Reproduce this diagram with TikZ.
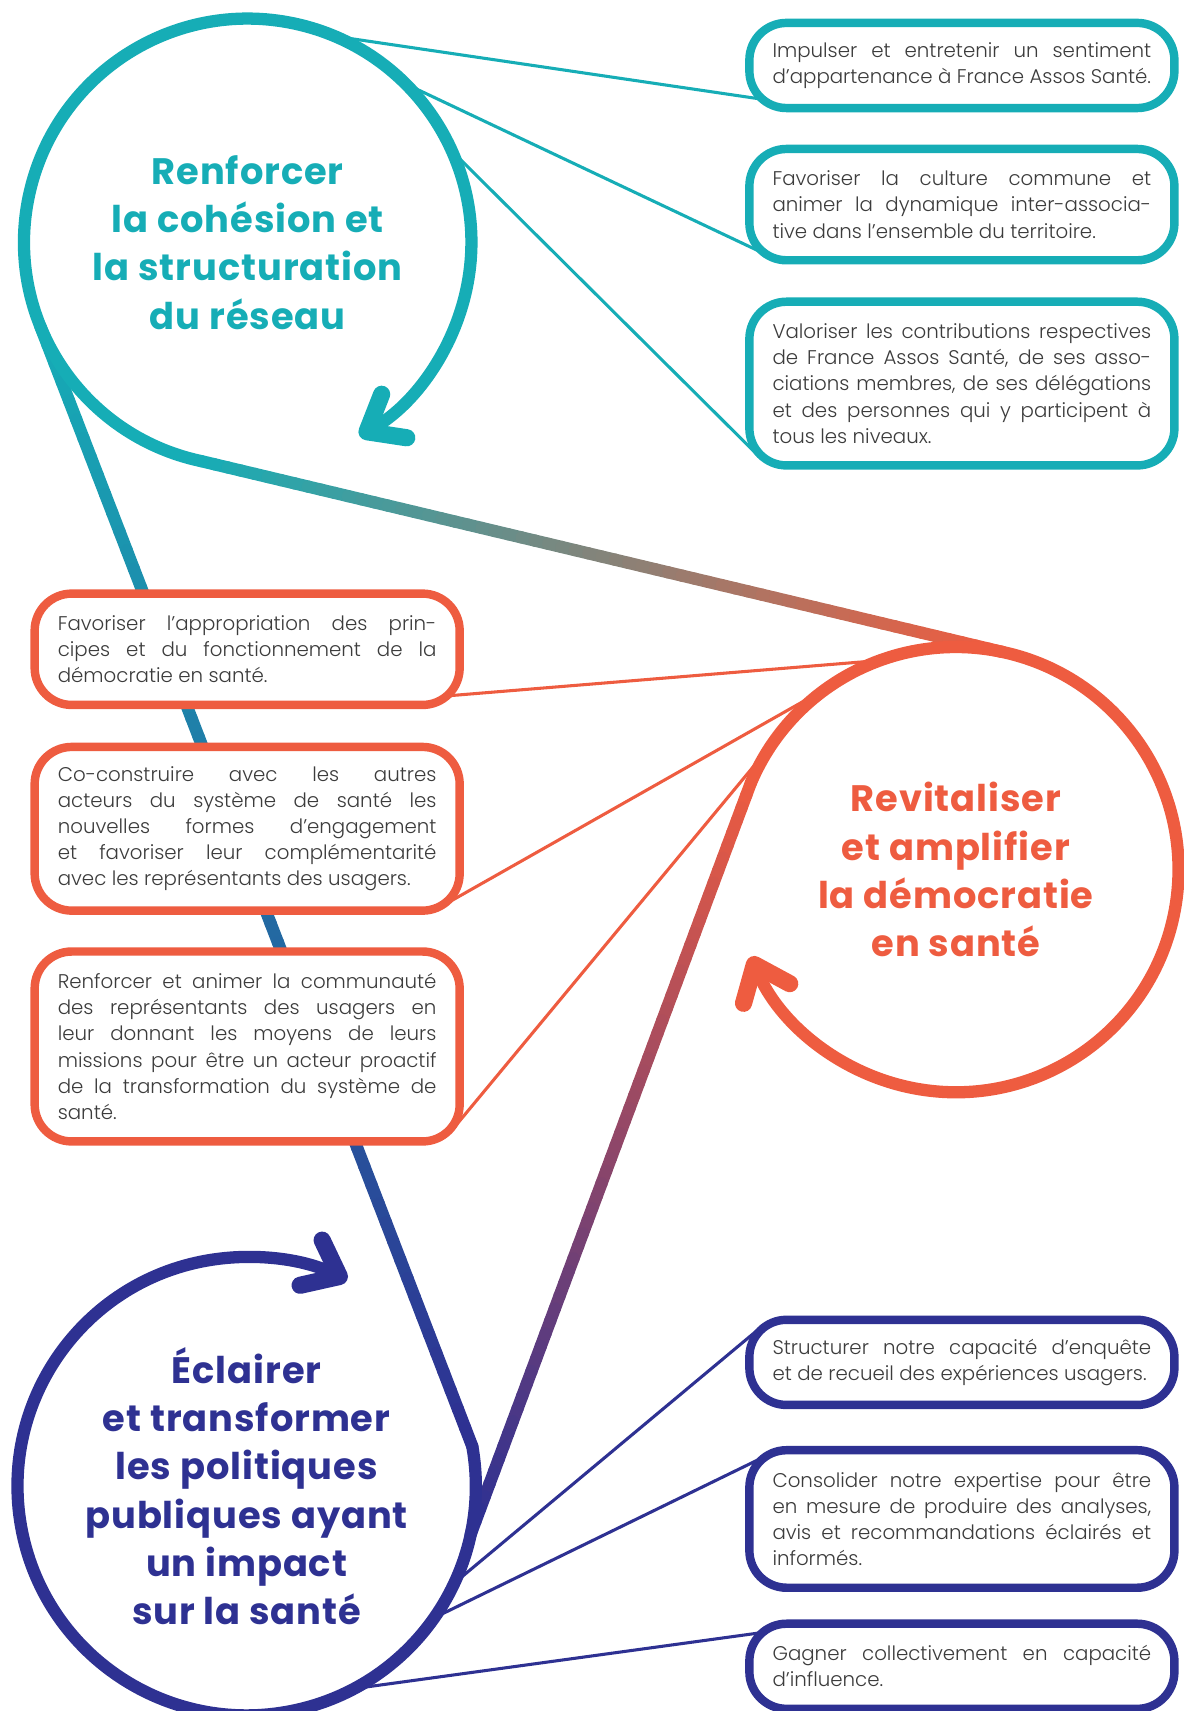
\documentclass[tikz,border=0pt]{standalone}
\usepackage{fontspec}
\setmainfont{Poppins Light}
\newfontfamily\titrefont{Poppins Bold}[LetterSpace=2.5]
\usetikzlibrary{calc,arrows.meta}
\definecolor{tealc}{RGB}{22,173,182}
\definecolor{corail}{RGB}{238,92,64}
\definecolor{indigo}{RGB}{46,49,146}
\definecolor{gristexte}{RGB}{60,60,60}
\tolerance=10000
\hyphenpenalty=10000
\exhyphenpenalty=10000
\tikzset{
  boucle/.style={line width=8pt,line cap=round},
  fleche/.style={-{Straight Barb[length=0.72cm,width=1.15cm,line width=0pt 1.4,round]}},
  fil/.style={line width=2pt},
  titre/.style={circle,inner sep=0pt,outer sep=0pt,align=center,
    font=\titrefont\fontsize{24}{31.5}\selectfont},
  cadre/.style={draw,line width=5.5pt,rounded corners=0.85cm,fill=white,text=gristexte,
    text width=8.675cm,inner xsep=0.53cm,inner ysep=0.2cm,minimum height={0.6cm*#1+0.75cm},
    align=justify,font=\fontsize{12.9}{17.07}\selectfont}
}
\begin{document}
\begin{tikzpicture}[x=0.025cm,y=0.025cm]
\useasboundingbox (0,0) rectangle (1085,-1568);
\node[titre,text=tealc,minimum size=10.25cm] (renforcer) at (227,-222)
  {Renforcer\\la cohésion et\\la structuration\\du réseau};
\node[titre,text=corail,minimum size=10.2cm] (revitaliser) at (876,-797)
  {Revitaliser\\et amplifier\\la démocratie\\en santé};
\node[titre,text=indigo,minimum size=10.5cm] (eclairer) at (226,-1362)
  {Éclairer\\et transformer\\les politiques\\publiques ayant\\un impact\\sur la santé};
% liens en degrade entre les boucles
\foreach \a/\b/\ca/\cb in {renforcer.258/revitaliser.78/tealc/corail,
    renforcer.202/eclairer.10/tealc/indigo,revitaliser.157/eclairer.348/corail/indigo}
  \foreach \i in {0,...,59}{
    \pgfmathsetmacro\s{(\i+1)/60}
    \pgfmathtruncatemacro\p{100-\i*100/59}
    \draw[boucle,color=\ca!\p!\cb] ($(\a)!\i/60!(\b)$) -- ($(\a)!\s!(\b)$);
  }
\draw[boucle,tealc,fleche] (renforcer.258) arc[start angle=258,end angle=-60,radius=205];
\draw[boucle,corail,fleche] (revitaliser.78) arc[start angle=78,end angle=-157,radius=204];
\draw[boucle,corail] (revitaliser.78) arc[start angle=78,end angle=157,radius=204];
\draw[boucle,indigo,fleche] (eclairer.10) arc[start angle=10,end angle=-296,radius=210];
% objectifs
\node[cadre=2,draw=tealc] (t1) at (881.5,-60) {Impulser et entretenir un sentiment\linebreak
  d’appartenance à France Assos Santé.};
\node[cadre=3,draw=tealc] (t2) at (881.5,-187.5) {Favoriser la culture commune et\linebreak
  animer la dynamique inter-associa-\linebreak tive dans l’ensemble du territoire.};
\node[cadre=5,draw=tealc] (t3) at (881.5,-351.5) {Valoriser les contributions respectives\linebreak
  de France Assos Santé, de ses asso-\linebreak ciations membres, de ses délégations\linebreak
  et des personnes qui y participent à\linebreak tous les niveaux.};
\node[cadre=3,draw=corail] (o1) at (226.5,-595) {Favoriser l’appropriation des prin-\linebreak
  cipes et du fonctionnement de la\linebreak démocratie en santé.};
\node[cadre=5,draw=corail] (o2) at (226.5,-759.5) {Co-construire avec les autres\linebreak
  acteurs du système de santé les\linebreak nouvelles formes d’engagement\linebreak
  et favoriser leur complémentarité\linebreak avec les représentants des usagers.};
\node[cadre=6,draw=corail] (o3) at (226.5,-959) {Renforcer et animer la communauté\linebreak
  des représentants des usagers en\linebreak leur donnant les moyens de leurs\linebreak
  missions pour être un acteur proactif\linebreak de la transformation du système de\linebreak santé.};
\node[cadre=2,draw=indigo] (b1) at (881.5,-1248.5) {Structurer notre capacité d’enquête\linebreak
  et de recueil des expériences usagers.};
\node[cadre=4,draw=indigo] (b2) at (881.5,-1392) {Consolider notre expertise pour être\linebreak
  en mesure de produire des analyses,\linebreak avis et recommandations éclairés et\linebreak informés.};
\node[cadre=2,draw=indigo] (b3) at (881.5,-1527) {Gagner collectivement en capacité\linebreak
  d’influence.};
% fils vers les objectifs
\foreach \a/\n in {67/1,45/2,24/3}
  \draw[fil,tealc] (renforcer.\a) -- ([shift={(0.31cm,0.31cm)}]t\n.south west);
\foreach \a/\n in {110/1,125/2,135/3}
  \draw[fil,corail] (revitaliser.\a) -- ([shift={(-0.31cm,0.31cm)}]o\n.south east);
\foreach \a/\n in {335/1,325/2,298/3}
  \draw[fil,indigo] (eclairer.\a) -- ([shift={(0.31cm,-0.31cm)}]b\n.north west);
\end{tikzpicture}
\end{document}
